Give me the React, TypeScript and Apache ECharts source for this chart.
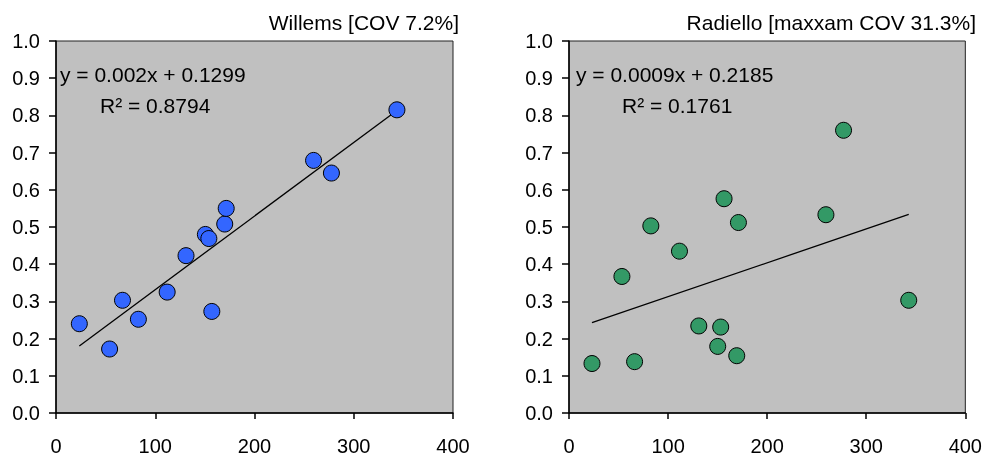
import React, { useEffect, useRef } from "react";
import * as echarts from "echarts";

const xValues = [23.5, 54, 67, 83, 112, 131, 150.5, 154, 157, 170, 171.5, 259.5, 277.5, 343.5];
const willemsY = [0.240, 0.172, 0.303, 0.252, 0.325, 0.423, 0.480, 0.469, 0.273, 0.508, 0.550, 0.679, 0.645, 0.815];
const radielloX = [23.2, 53.4, 66.2, 82.6, 111.5, 131, 150.1, 153.1, 156.5, 169.3, 171, 259.3, 277.1, 342.9];
const radielloY = [0.133, 0.367, 0.138, 0.503, 0.435, 0.234, 0.179, 0.231, 0.576, 0.154, 0.512, 0.533, 0.760, 0.303];

const leftTitle = "Willems [COV 7.2%]";
const rightTitle = "Radiello [maxxam COV 31.3%]";
const leftEq = "y = 0.002x + 0.1299";
const leftR2 = "R² = 0.8794";
const rightEq = "y = 0.0009x + 0.2185";
const rightR2 = "R² = 0.1761";

const xTicks = { min: 0, max: 400, interval: 100 };
const yTicks = { min: 0, max: 1, interval: 0.1 };

function fit(xs: number[], ys: number[]) {
  const n = xs.length;
  const mx = xs.reduce((a, b) => a + b, 0) / n;
  const my = ys.reduce((a, b) => a + b, 0) / n;
  let sxy = 0, sxx = 0;
  for (let i = 0; i < n; i++) {
    sxy += (xs[i] - mx) * (ys[i] - my);
    sxx += (xs[i] - mx) * (xs[i] - mx);
  }
  const b = sxy / sxx;
  const a = my - b * mx;
  const x0 = Math.min(...xs);
  const x1 = Math.max(...xs);
  return [[x0, a + b * x0], [x1, a + b * x1]];
}

const FONT = "'Liberation Sans', Arial, sans-serif";
const FS = 20;
const TFS = 21;

export default function App() {
  const ref = useRef<HTMLDivElement>(null);
  useEffect(() => {
    if (!ref.current) return;
    const chart = echarts.init(ref.current, null, { renderer: "svg" });
    const gridBase = { top: 41, width: 397, height: 374, show: true, backgroundColor: "#c0c0c0", borderColor: "#222", borderWidth: 1 };
    const xAxisBase = (gi: number) => ({
      type: "value" as const,
      gridIndex: gi,
      ...xTicks,
      splitLine: { show: false },
      axisLine: { show: true, lineStyle: { color: "#000", width: 1.5 } },
      axisTick: { show: true, length: 6, lineStyle: { color: "#000", width: 1.5 } },
      axisLabel: { color: "#000", fontSize: FS, fontFamily: FONT, margin: 23 },
    });
    const yAxisBase = (gi: number) => ({
      type: "value" as const,
      gridIndex: gi,
      ...yTicks,
      splitLine: { show: false },
      axisLine: { show: true, lineStyle: { color: "#000", width: 1.5 } },
      axisTick: { show: true, length: 7, lineStyle: { color: "#000", width: 1.5 } },
      axisLabel: { color: "#000", fontSize: FS, fontFamily: FONT, margin: 16, formatter: (v: number) => v.toFixed(1) },
    });
    const scatter = (gi: number, xs: number[], ys: number[], color: string) => ({
      type: "scatter" as const,
      xAxisIndex: gi,
      yAxisIndex: gi,
      symbol: "circle",
      symbolSize: 16,
      itemStyle: { color, borderColor: "#000", borderWidth: 1, opacity: 1 },
      data: xs.map((x, i) => [x, ys[i]]),
      z: 3,
    });
    const trend = (gi: number, xs: number[], ys: number[]) => ({
      type: "line" as const,
      xAxisIndex: gi,
      yAxisIndex: gi,
      showSymbol: false,
      symbol: "none",
      lineStyle: { color: "#000", width: 1.3 },
      data: fit(xs, ys),
      z: 2,
    });
    const txt = (x: number, y: number, text: string, align: string) => ({
      type: "text",
      x,
      y,
      z: 10,
      style: { text, fill: "#000", font: `${TFS}px ${FONT}`, align, verticalAlign: "middle" },
    });
    chart.setOption({
      animation: false,
      grid: [
        { ...gridBase, left: 56 },
        { ...gridBase, left: 569 },
      ],
      xAxis: [xAxisBase(0), xAxisBase(1)],
      yAxis: [yAxisBase(0), yAxisBase(1)],
      series: [
        trend(0, xValues, willemsY),
        scatter(0, xValues, willemsY, "#3366ff"),
        trend(1, radielloX, radielloY),
        scatter(1, radielloX, radielloY, "#339966"),
      ],
      graphic: [
        txt(459, 22, leftTitle, "right"),
        txt(976, 22, rightTitle, "right"),
        txt(60, 74, leftEq, "left"),
        txt(100, 105, leftR2, "left"),
        txt(576, 74, rightEq, "left"),
        txt(622, 105, rightR2, "left"),
      ],
    });
    return () => chart.dispose();
  }, []);
  return <div ref={ref} style={{ position: "fixed", left: 0, top: 0, width: 985, height: 456 }} />;
}
